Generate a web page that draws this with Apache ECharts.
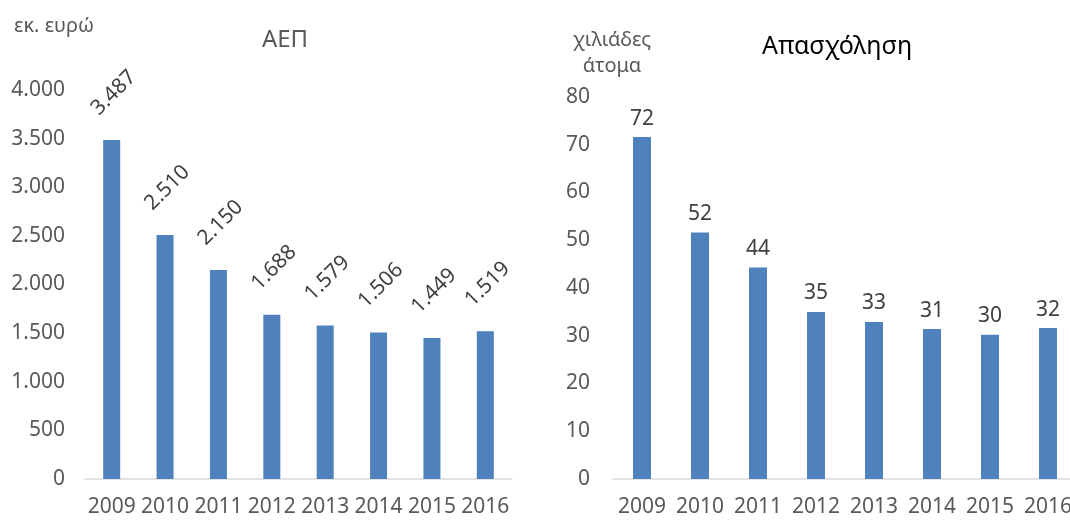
<!DOCTYPE html>
<html lang="el">
<head>
    <meta charset="utf-8">
    <title>ΑΕΠ και Απασχόληση</title>
    <script src="https://cdn.jsdelivr.net/npm/echarts@6/dist/echarts.min.js"></script>
    <style>
        html, body { margin: 0; padding: 0; background: #fff; }
        #main { width: 1070px; height: 521px; }
    </style>
</head>
<body>
<div id="main"></div>
<script>
    // δεδομένα
    var years = ['2009', '2010', '2011', '2012', '2013', '2014', '2015', '2016'];
    var gdp = [3487, 2510, 2150, 1688, 1579, 1506, 1449, 1519];          // εκ. ευρώ
    var employment = [71.6, 51.6, 44.3, 35.0, 32.9, 31.4, 30.2, 31.6];   // χιλιάδες άτομα

    var font = '"Noto Sans", sans-serif';
    var textGrey = '#595959';
    var barBlue = '#4f81bd';

    function greekThousands(v) {
        return String(Math.round(v)).replace(/\B(?=(\d{3})+(?!\d))/g, '.');
    }

    var myChart = echarts.init(document.getElementById('main'));

    var option = {
        animation: false,
        textStyle: { fontFamily: font },
        title: [{
            text: 'ΑΕΠ',
            left: 280, top: 23,
            textAlign: 'center',
            textStyle: { fontSize: 24, fontWeight: 'normal', color: textGrey, fontFamily: font }
        }, {
            text: 'Απασχόληση',
            left: 832, top: 29,
            textAlign: 'center',
            textStyle: { fontSize: 25, fontWeight: 'normal', color: '#000', fontFamily: font }
        }],
        graphic: [{
            type: 'text', x: 14, y: 16,
            style: { text: 'εκ. ευρώ', fontSize: 20, fill: textGrey, fontFamily: font }
        }, {
            type: 'text', x: 612, y: 27,
            style: { text: 'χιλιάδες\nάτομα', fontSize: 20, lineHeight: 26, align: 'center', fill: textGrey, fontFamily: font }
        }],
        grid: [
            { left: 85, top: 90, width: 427, height: 389, outerBoundsMode: 'none' },
            { left: 613, top: 97, width: 464, height: 382, outerBoundsMode: 'none' }
        ],
        xAxis: [{
            type: 'category', gridIndex: 0, data: years,
            axisLine: { lineStyle: { color: '#d9d9d9', width: 1.5 } },
            axisTick: { show: false },
            axisLabel: { color: textGrey, fontSize: 21, margin: 18, interval: 0 }
        }, {
            type: 'category', gridIndex: 1, data: years,
            axisLine: { lineStyle: { color: '#d9d9d9', width: 1.5 } },
            axisTick: { show: false },
            axisLabel: { color: textGrey, fontSize: 21, margin: 18, interval: 0 }
        }],
        yAxis: [{
            type: 'value', gridIndex: 0, min: 0, max: 4000, interval: 500,
            splitLine: { show: false },
            axisLine: { show: false },
            axisTick: { show: false },
            axisLabel: { color: textGrey, fontSize: 21, margin: 20, formatter: greekThousands }
        }, {
            type: 'value', gridIndex: 1, min: 0, max: 80, interval: 10,
            splitLine: { show: false },
            axisLine: { show: false },
            axisTick: { show: false },
            axisLabel: { color: textGrey, fontSize: 21, margin: 23 }
        }],
        series: [{
            type: 'bar', xAxisIndex: 0, yAxisIndex: 0,
            data: gdp, barWidth: 17,
            itemStyle: { color: barBlue },
            label: {
                show: true, position: 'top', distance: 45, rotate: 45,
                align: 'center', verticalAlign: 'middle', offset: [3, 0],
                color: '#404040', fontSize: 21,
                formatter: function (p) { return greekThousands(p.value); }
            }
        }, {
            type: 'bar', xAxisIndex: 1, yAxisIndex: 1,
            data: employment, barWidth: 18,
            itemStyle: { color: barBlue },
            label: {
                show: true, position: 'top', distance: 8,
                color: '#404040', fontSize: 21,
                formatter: function (p) { return Math.round(p.value); }
            }
        }]
    };

    myChart.setOption(option);
</script>
</body>
</html>
